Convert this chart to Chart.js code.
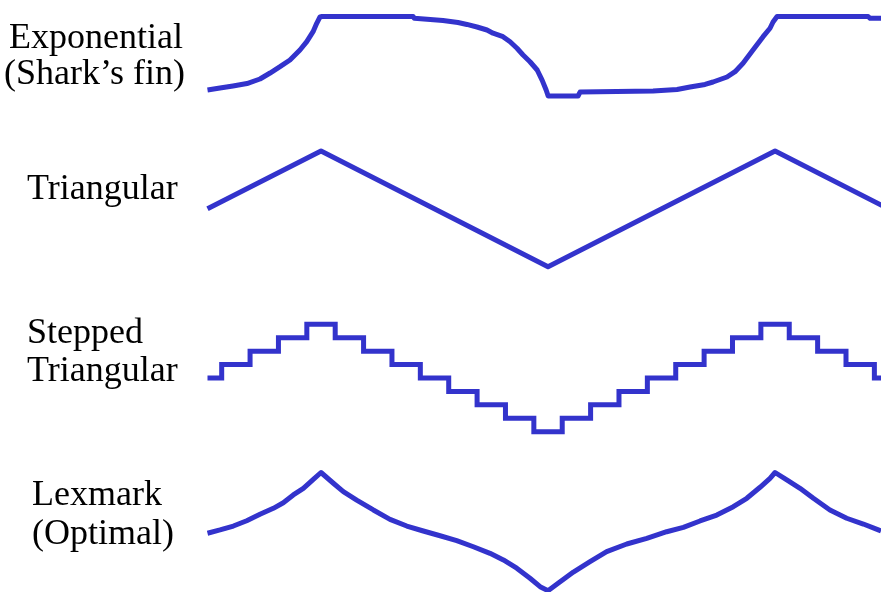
<!DOCTYPE html>
<html>
<head>
<meta charset="utf-8">
<script src="https://cdn.jsdelivr.net/npm/chart.js@4/dist/chart.umd.min.js"></script>
<style>
  html, body { margin: 0; padding: 0; background: #ffffff; }
  #wrap { position: relative; width: 881px; height: 592px; overflow: hidden; }
  #chart { position: absolute; left: 0; top: 0; }
  .lbl {
    position: absolute;
    font-family: "Liberation Serif", "Times New Roman", serif;
    font-size: 36px;
    line-height: 36px;
    color: #000;
    white-space: nowrap;
  }
</style>
</head>
<body>
<div id="wrap">
  <canvas id="chart" width="881" height="592"></canvas>
  <div class="lbl" style="left:9px; top:18px;">Exponential</div>
  <div class="lbl" style="left:4px; top:54px;">(Shark’s fin)</div>
  <div class="lbl" style="left:27px; top:169px;">Triangular</div>
  <div class="lbl" style="left:27px; top:313px;">Stepped</div>
  <div class="lbl" style="left:27px; top:351px;">Triangular</div>
  <div class="lbl" style="left:32px; top:475px;">Lexmark</div>
  <div class="lbl" style="left:32px; top:514px;">(Optimal)</div>
</div>
<script>
// Modulation waveforms over 1.5 cycles; x is the phase in degrees,
// y is the normalised amplitude (0 = minimum, 1 = maximum).

const phaseRange = [0, 534];

// Exponential ("shark's fin")
const expPhase = [0, 9.9, 20.2, 31.3, 41.6, 49.6, 57.5, 65.4, 73.3, 78.7, 83.7, 86.6, 89.2, 90.8,
  163, 164, 186.7, 198.6, 205.7, 213.7, 221.6, 226.4, 234.3, 239.9, 245.4, 250.2, 255.7, 261.4,
  265.3, 268.5, 270.1, 293.8, 295.4, 353.3, 372.3, 382.6, 394.5, 400.8, 411.9, 418.3, 424.6,
  432.5, 440.5, 446.0, 448.4, 451.6, 523.8, 525.4, 534];
const expValue = [0.075, 0.10, 0.126, 0.157, 0.214, 0.289, 0.369, 0.453, 0.579, 0.683, 0.809, 0.914, 0.994, 1,
  1, 0.977, 0.95, 0.925, 0.90, 0.868, 0.83, 0.79, 0.746, 0.683, 0.60, 0.516, 0.431, 0.327,
  0.20, 0.075, 0, 0, 0.05, 0.063, 0.082, 0.113, 0.145, 0.176, 0.239, 0.306, 0.411,
  0.579, 0.746, 0.852, 0.931, 1, 1, 0.977, 0.977];

// Triangular
const triPhase = [0, 90, 270, 450, 540];
const triValue = [0.5, 1, 0, 1, 0.5];

// Stepped triangular: 8 quantisation levels, one level per 22.5 degrees
const stepPhase = [0, 22.5, 45, 67.5, 90, 112.5, 135, 157.5, 180, 202.5, 225, 247.5, 270,
  292.5, 315, 337.5, 360, 382.5, 405, 427.5, 450, 472.5, 495, 517.5, 540];
const stepLevel = [4, 5, 6, 7, 8, 7, 6, 5, 4, 3, 2, 1, 0, 1, 2, 3, 4, 5, 6, 7, 8, 7, 6, 5, 4];
const stepCount = 8;

// Lexmark (optimal)
const lexPhase = [0, 9.9, 20.5, 31.1, 41.6, 52.2, 60.1, 68.0, 76.0, 83.9, 90,
  99.8, 107.7, 118.3, 131.5, 144.7, 158.0, 171.1, 184.4, 197.6, 210.8, 224.0, 234.6, 245.2,
  255.7, 263.7, 270, 279.6, 290.1, 303.3, 316.5, 332.4, 348.3, 364.1, 377.3, 390.5, 403.8,
  416.9, 427.6, 438.1, 446.0, 450, 459.3, 469.8, 480.4, 493.5, 506.8, 520.0, 531.9, 534];
const lexValue = [0.486, 0.514, 0.547, 0.592, 0.646, 0.697, 0.744, 0.81, 0.866, 0.942, 1,
  0.909, 0.838, 0.767, 0.683, 0.604, 0.547, 0.505, 0.465, 0.423, 0.372, 0.316, 0.26, 0.19,
  0.105, 0.034, 0, 0.076, 0.158, 0.245, 0.33, 0.395, 0.443, 0.499, 0.536, 0.59, 0.64,
  0.711, 0.782, 0.875, 0.951, 1, 0.937, 0.866, 0.782, 0.683, 0.613, 0.564, 0.514, 0.505];

// Layout: pixel rows (max, min) for each trace on the 592px tall canvas
const canvasH = 592;
const rowBands = [
  { id: 'yExp',  top: 16.5,  bottom: 96 },
  { id: 'yTri',  top: 151,   bottom: 266.7 },
  { id: 'yStep', top: 324.3, bottom: 431.7 },
  { id: 'yLex',  top: 472.5, bottom: 590.7 }
];

const lineColor = '#3333cc';

function pts(xs, ys, scale) {
  return xs.map((x, i) => ({ x: x, y: ys[i] * (scale || 1) }));
}

const scales = {
  x: { type: 'linear', min: phaseRange[0], max: phaseRange[1], display: false }
};
rowBands.forEach(b => {
  const span = b.bottom - b.top;
  scales[b.id] = {
    type: 'linear',
    display: false,
    max: b.bottom / span,
    min: (b.bottom - canvasH) / span
  };
});

const base = {
  borderColor: lineColor,
  backgroundColor: lineColor,
  borderWidth: 5,
  pointRadius: 0,
  fill: false,
  clip: false,
  tension: 0
};

new Chart(document.getElementById('chart'), {
  type: 'line',
  data: {
    datasets: [
      Object.assign({}, base, { label: 'Exponential', yAxisID: 'yExp', data: pts(expPhase, expValue), borderJoinStyle: 'round' }),
      Object.assign({}, base, { label: 'Triangular', yAxisID: 'yTri', data: pts(triPhase, triValue), borderJoinStyle: 'round' }),
      Object.assign({}, base, { label: 'Stepped Triangular', yAxisID: 'yStep',
        data: pts(stepPhase, stepLevel, 1 / stepCount), stepped: 'middle', borderJoinStyle: 'miter' }),
      Object.assign({}, base, { label: 'Lexmark', yAxisID: 'yLex', data: pts(lexPhase, lexValue), borderJoinStyle: 'round' })
    ]
  },
  options: {
    responsive: false,
    animation: false,
    layout: { padding: { left: 207.5, right: 0, top: 0, bottom: 0 } },
    plugins: { legend: { display: false }, tooltip: { enabled: false } },
    scales: scales
  }
});
</script>
</body>
</html>
